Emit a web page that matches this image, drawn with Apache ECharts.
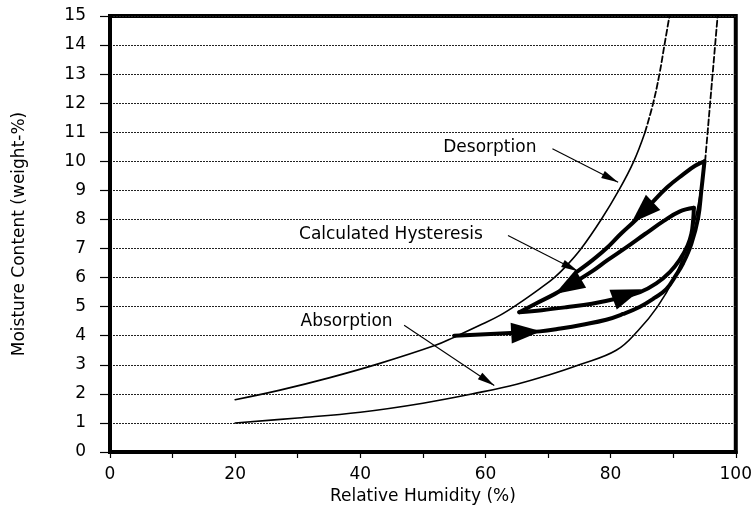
<!DOCTYPE html>
<html>
<head>
<meta charset="utf-8">
<script src="https://cdn.jsdelivr.net/npm/echarts@6/dist/echarts.min.js"></script>
<style>
  html, body { margin: 0; padding: 0; background: #fff; }
  #chart { width: 755px; height: 514px; }
</style>
</head>
<body>
<div id="chart"></div>
<script>
// Sorption isotherms: [relative humidity %, moisture content weight-%]
const absorptionSolid = [[20,1.0],[30,1.17],[40,1.37],[50,1.68],[59.3,2.06],[65,2.33],[70,2.64],[75,3.0],[80.9,3.5],[84.4,4.18],[87.5,5.0],[90.2,6.0],[92,6.95],[93.5,8.0],[94.4,9.0],[95.1,10.0]];
const absorptionDashed = [[95.1,10.0],[95.5,11],[95.9,12],[96.3,13],[96.7,14],[97.1,15]];
const desorptionSolid = [[20,1.8],[27,2.12],[35,2.55],[43,3.04],[52,3.67],[55,3.95],[59,4.35],[62.3,4.7],[65.4,5.12],[68.7,5.62],[71,6.0],[73,6.42],[75.3,7.0],[78.5,8.0],[81.3,9.0],[83.7,10.0],[85.5,11.0]];
const desorptionDashed = [[85.5,11.0],[86.8,12],[87.8,13],[88.6,14],[89.4,15]];

// Calculated hysteresis scanning curves
const scanUpOuter = [[55,4.0],[60,4.05],[64.9,4.1],[68.7,4.15],[72,4.25],[75.5,4.38],[79.3,4.55],[82,4.75],[84.7,5.0],[87,5.3],[88.9,5.6],[90.5,6.1],[91.6,6.5],[92.9,7.16],[94,8.07],[94.5,9.0],[95.0,10.0]];
const scanDownOuter = [[95.0,10.0],[93.5,9.85],[91.6,9.55],[89,9.1],[86.5,8.55],[84.1,8.0],[81.6,7.5],[79.3,7.0],[76.8,6.55],[74.6,6.2]];
const scanDownInner = [[93.3,8.4],[91,8.27],[88.5,7.95],[85.5,7.5],[82.5,7.04],[79.5,6.6],[77.2,6.24],[73.8,5.78],[71.1,5.44],[68,5.1],[65.4,4.81]];
const scanUpInner = [[65.4,4.81],[69,4.88],[72.9,4.98],[77,5.1],[81,5.28],[84.7,5.5],[87.3,5.8],[89.5,6.2],[91,6.6],[92.3,7.1],[92.9,7.5],[93.2,8.0],[93.3,8.4]];

// Direction heads on the scanning curves: [tipX, tipY, tailX, tailY]
const scanHeads = [[83.3,7.88,86.6,8.55],[71.1,5.44,74.2,5.83],[84.9,5.6,80.5,5.25],[68.9,4.15,64.9,4.1]];

// Annotation texts, their anchors and leader lines
const labelTexts = ['Desorption', 'Calculated Hysteresis', 'Absorption'];
const labelAnchors = [[60.7,10.48],[44.9,7.48],[37.8,4.47]];
const leaderLines = [[[70.7,10.43],[81.2,9.28]], [[63.6,7.45],[74.8,6.22]], [[47.0,4.36],[61.4,2.29]]];

const xTicks = [0, 20, 40, 60, 80, 100];
const yTicks = [0,1,2,3,4,5,6,7,8,9,10,11,12,13,14,15];

const FONT = 'DejaVu Sans';

function headRenderer(len, wid) {
  return function (params, api) {
    const tip = api.coord([api.value(0), api.value(1)]);
    const tail = api.coord([api.value(2), api.value(3)]);
    const dx = tip[0] - tail[0], dy = tip[1] - tail[1];
    const d = Math.hypot(dx, dy) || 1;
    const ux = dx / d, uy = dy / d;
    const bx = tip[0] - ux * len, by = tip[1] - uy * len;
    const nx = -uy * wid / 2, ny = ux * wid / 2;
    return {
      type: 'polygon',
      shape: { points: [tip, [bx + nx, by + ny], [bx - nx, by - ny]] },
      style: { fill: '#000' }
    };
  };
}

function textRenderer(params, api) {
  const p = api.coord([api.value(0), api.value(1)]);
  return {
    type: 'text', x: p[0], y: p[1],
    style: {
      text: labelTexts[params.dataIndex], fill: '#000',
      font: '17px "' + FONT + '"', align: 'center', verticalAlign: 'middle'
    }
  };
}

const leaderHeads = leaderLines.map(l => [l[1][0], l[1][1], l[0][0], l[0][1]]);

function curve(data, width, dashed) {
  return {
    type: 'line', data: data, showSymbol: false, symbol: 'none',
    smooth: 0.4,
    lineStyle: { color: '#000', width: width, type: dashed ? [6, 3] : 'solid', cap: 'round', join: 'round' },
    z: 3, silent: true
  };
}

const series = [
  curve(absorptionSolid, 1.6, false),
  curve(absorptionDashed, 1.8, true),
  curve(desorptionSolid, 1.6, false),
  curve(desorptionDashed, 1.8, true),
  curve(scanUpOuter, 4, false),
  curve(scanDownOuter, 4, false),
  curve(scanDownInner, 4, false),
  curve(scanUpInner, 4, false),
  { type: 'custom', renderItem: headRenderer(30, 21), data: scanHeads, z: 4, silent: true },
  { type: 'custom', renderItem: headRenderer(17, 8), data: leaderHeads, z: 4, silent: true },
  { type: 'custom', renderItem: textRenderer, data: labelAnchors, z: 5, silent: true }
];
leaderLines.forEach(l => {
  series.push({
    type: 'line', data: l, showSymbol: false, symbol: 'none',
    lineStyle: { color: '#000', width: 1.1 }, z: 3, silent: true
  });
});

const chart = echarts.init(document.getElementById('chart'), null, { renderer: 'canvas' });
chart.setOption({
  animation: false,
  backgroundColor: '#fff',
  grid: { left: 110, right: 18, top: 16, bottom: 62, show: true, borderColor: '#000', borderWidth: 4, backgroundColor: 'transparent' },
  xAxis: {
    type: 'value', min: 0, max: 100, interval: 20,
    name: 'Relative Humidity (%)', nameLocation: 'middle', nameGap: 36,
    nameTextStyle: { color: '#000', fontSize: 17, fontFamily: FONT },
    axisLine: { show: true, lineStyle: { color: '#000', width: 4 } },
    axisTick: { show: true, length: 6, lineStyle: { color: '#000', width: 1.2 } },
    minorTick: { show: true, splitNumber: 2, length: 6, lineStyle: { color: '#000', width: 1.2 } },
    splitLine: { show: false },
    axisLabel: { color: '#000', fontSize: 17, fontFamily: FONT, margin: 14,
      formatter: v => xTicks.indexOf(v) >= 0 ? String(v) : '' }
  },
  yAxis: {
    type: 'value', min: 0, max: 15, interval: 1,
    name: 'Moisture Content (weight-%)', nameLocation: 'middle', nameGap: 82,
    nameTextStyle: { color: '#000', fontSize: 17, fontFamily: FONT },
    axisLine: { show: true, lineStyle: { color: '#000', width: 4 } },
    axisTick: { show: true, length: 10, lineStyle: { color: '#000', width: 1.2 } },
    splitLine: { show: true, lineStyle: { color: '#222', width: 1, type: [2, 1] } },
    axisLabel: { color: '#000', fontSize: 17, fontFamily: FONT, margin: 24,
      formatter: v => yTicks.indexOf(v) >= 0 ? String(v) : '' }
  },
  series: series
});
</script>
</body>
</html>
